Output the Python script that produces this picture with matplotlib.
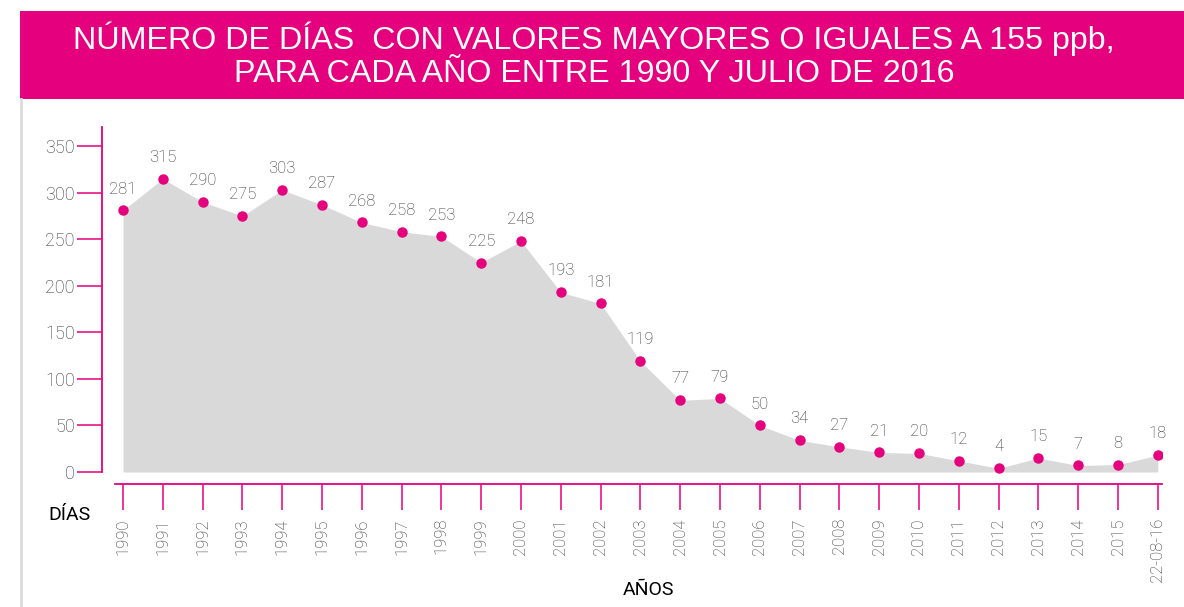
import matplotlib
matplotlib.use("Agg")
import matplotlib.pyplot as plt
from matplotlib.patches import Rectangle
from matplotlib.lines import Line2D

plt.rcParams['font.family'] = ['Roboto', 'Liberation Sans', 'DejaVu Sans']
plt.rcParams['font.weight'] = 'light'

years = ['1990', '1991', '1992', '1993', '1994', '1995', '1996', '1997', '1998', '1999',
         '2000', '2001', '2002', '2003', '2004', '2005', '2006', '2007', '2008', '2009',
         '2010', '2011', '2012', '2013', '2014', '2015', '22-08-16']
days = [281, 315, 290, 275, 303, 287, 268, 258, 253, 225,
        248, 193, 181, 119, 77, 79, 50, 34, 27, 21,
        20, 12, 4, 15, 7, 8, 18]
yticks = [0, 50, 100, 150, 200, 250, 300, 350]

MAG = '#E5007E'
TXT = '#333333'
W, H = 1184, 607
fig = plt.figure(figsize=(W / 100, H / 100), dpi=100)

# banner
fig.patches.append(Rectangle((20 / W, (H - 99) / H), 1 - 20 / W, 88 / H,
                             transform=fig.transFigure, facecolor=MAG, edgecolor='none'))
fig.lines.append(Line2D([21 / W, 21 / W], [0, (H - 99) / H], transform=fig.transFigure,
                        color='#dcdcdc', lw=2))
fig.text(594 / W, (H - 55) / H,
         'NÚMERO DE DÍAS  CON VALORES MAYORES O IGUALES A 155 ppb,\nPARA CADA AÑO ENTRE 1990 Y JULIO DE 2016',
         color='white', fontsize=23.2, ha='center', va='center', linespacing=1.12,
         family=['Liberation Sans', 'DejaVu Sans'], fontweight='normal')

ax = fig.add_axes([102 / W, (H - 484) / H, (1162 - 102) / W, (484 - 127) / H])
x = list(range(len(years)))
ax.fill_between(x, days, 0, color='#d9d9d9', lw=0)
ax.plot(x, days, 'o', color=MAG, markersize=6.5, zorder=3)
for xi, v in zip(x, days):
    ax.annotate(str(v), (xi, v), xytext=(0, 10), textcoords='offset points',
                ha='center', va='bottom', fontsize=12, color=TXT)

px = 39.8
ax.set_xlim(-21 / px, (1162 - 123) / px)
ax.set_ylim(-12 / 0.931, 345 / 0.931)
ax.set_xticks(x)
ax.set_xticklabels(years, rotation=90, fontsize=12, color=TXT)
ax.set_yticks(yticks)
ax.set_yticklabels([str(t) for t in yticks], fontsize=13, color=TXT)
for s in ['top', 'right']:
    ax.spines[s].set_visible(False)
for s in ['left', 'bottom']:
    ax.spines[s].set_color(MAG)
    ax.spines[s].set_linewidth(1.3)
ax.spines['left'].set_bounds(0, 345 / 0.931)
ax.spines['bottom'].set_bounds((115 - 123) / px, (1162 - 123) / px)
ax.tick_params(axis='y', direction='out', length=18, width=1.1, color=MAG, pad=1.5)
ax.tick_params(axis='x', direction='out', length=18.5, width=1.1, color=MAG, pad=6)
ax.patch.set_visible(False)

fig.text(69 / W, (H - 515) / H, 'DÍAS', fontsize=14, ha='center', va='center',
         color='black', fontweight='normal')
fig.text(649 / W, (H - 590) / H, 'AÑOS', fontsize=14, ha='center', va='center',
         color='black', fontweight='normal')

fig.savefig('out.png', dpi=100)
